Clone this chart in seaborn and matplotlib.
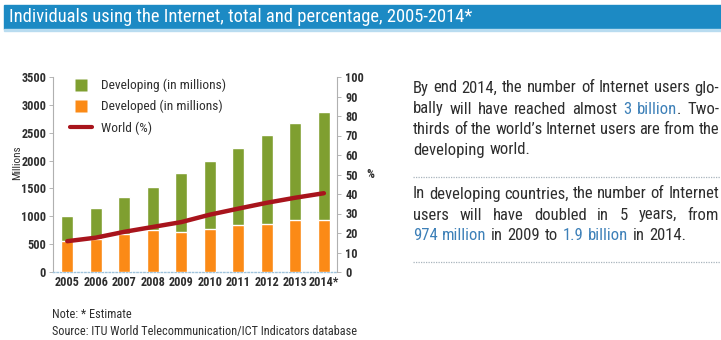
import numpy as np
import pandas as pd
import matplotlib
matplotlib.use("Agg")
import matplotlib.pyplot as plt
import seaborn as sns
from matplotlib.patches import Rectangle
from matplotlib.lines import Line2D

# ---- data ----
years = ["2005", "2006", "2007", "2008", "2009", "2010", "2011", "2012", "2013", "2014*"]
developed = [560, 590, 690, 750, 720, 780, 840, 860, 930, 940]
developing = [450, 550, 660, 780, 1050, 1210, 1380, 1600, 1740, 1930]
world_pct = [15.8, 17.6, 20.6, 23.1, 25.6, 29.4, 32.5, 35.5, 38.1, 40.4]
left_ticks = [0, 500, 1000, 1500, 2000, 2500, 3000, 3500]
right_ticks = [0, 10, 20, 30, 40, 50, 60, 70, 80, 90, 100]

title = "Individuals using the Internet, total and percentage, 2005-2014*"
note = "Note: * Estimate"
source = "Source: ITU World Telecommunication/ICT Indicators database"

GREEN = "#7f9f30"
ORANGE = "#fb8a16"
RED = "#a8141c"
DARK = "#2e2e2e"
BLUE_T = "#3d80b8"
NARROW = ["Roboto Condensed", "Liberation Sans Narrow", "Liberation Sans", "DejaVu Sans"]

sns.set_theme(style="white")
plt.rcParams["font.family"] = NARROW

W, H = 721, 340
fig = plt.figure(figsize=(W / 100, H / 100), dpi=100)
renderer = fig.canvas.get_renderer()

def fx(px):
    return px / W

def fy(py):
    return 1 - py / H

def fit_size(s, target_px, base=12.0, **kw):
    t = fig.text(0, 0, s, fontsize=base, **kw)
    w = t.get_window_extent(renderer).width
    t.remove()
    return base * target_px / w

# title banner
fig.patches.append(Rectangle((fx(4), fy(29)), 1, (29 - 5) / H, transform=fig.transFigure,
                             color="#1c8ac4", zorder=0))
fig.patches.append(Rectangle((fx(4), fy(31)), 1, 2 / H, transform=fig.transFigure,
                             color="#b9dcf0", zorder=0))
tsize = fit_size(title, 462)
fig.text(fx(9), fy(17), title, color="white", fontsize=tsize, va="center", ha="left")

# ---- chart ----
ax = fig.add_axes([fx(53), fy(272), fx(337 - 53), (272 - 77) / H])
df = pd.DataFrame({"year": years, "developed": developed, "developing": developing,
                   "pct": world_pct})
df["total"] = df["developed"] + df["developing"]

sns.barplot(data=df, x="year", y="total", color=GREEN, width=0.42, ax=ax,
            saturation=1, zorder=2)
sns.barplot(data=df, x="year", y="developed", color=ORANGE, width=0.42, ax=ax,
            saturation=1, zorder=3)
ax.set_ylim(0, 3500)
ax.set_xlim(-0.5, 9.46)
ax.set_yticks(left_ticks)
ax.set_yticklabels([str(t) for t in left_ticks])
ax.set_xlabel("")
ax.set_ylabel("Millions", fontsize=8, color=DARK)
ax.yaxis.set_label_coords((22 - 53) / (337 - 53), (272 - 163) / (272 - 77))
tick_fs = 8.8
ax.tick_params(axis="y", length=3, width=0.6, color="#aaaaaa", labelsize=tick_fs,
               labelcolor=DARK, pad=2, left=True)
ax.tick_params(axis="x", length=0, labelsize=tick_fs, labelcolor=DARK, pad=3)
for lab in ax.get_xticklabels() + ax.get_yticklabels():
    lab.set_fontweight("bold")
for s in ["top", "right"]:
    ax.spines[s].set_visible(False)
ax.spines["left"].set_color("#b0b0b0")
ax.spines["left"].set_linewidth(0.8)
ax.spines["bottom"].set_color("#9fc3dc")
ax.spines["bottom"].set_linestyle((0, (1, 1.5)))
ax.spines["bottom"].set_linewidth(1.0)
ax.grid(False)

ax2 = ax.twinx()
xpos = np.arange(len(years))
sns.lineplot(x=xpos, y=world_pct, ax=ax2, color=RED, linewidth=3.2, zorder=5)
ax2.set_ylim(0, 100)
ax2.set_yticks(right_ticks)
ax2.set_yticklabels([str(t) for t in right_ticks])
ax2.tick_params(axis="y", length=3, width=0.6, color="#aaaaaa", labelsize=tick_fs,
                labelcolor=DARK, pad=3, right=True)
for lab in ax2.get_yticklabels():
    lab.set_fontweight("bold")
for s in ["top", "left", "bottom"]:
    ax2.spines[s].set_visible(False)
ax2.spines["right"].set_color("#b0b0b0")
ax2.spines["right"].set_linewidth(0.8)
ax2.set_ylabel("")
ax2.grid(False)
ax2.set_xlim(-0.5, 9.46)
fig.text(fx(370), fy(175), "%", fontsize=tick_fs, color=DARK, va="center", ha="center",
         fontweight="bold")

leg_fs = fit_size("Developing (in millions)", 124, base=9)
handles = [Line2D([0], [0], linestyle="none", marker="s", markersize=9,
                  markerfacecolor=GREEN, markeredgecolor="none"),
           Line2D([0], [0], linestyle="none", marker="s", markersize=9,
                  markerfacecolor=ORANGE, markeredgecolor="none"),
           Line2D([0], [0], color=RED, linewidth=3)]
labels = ["Developing (in millions)", "Developed (in millions)", "World (%)"]
em = leg_fs * 100 / 72
leg = ax.legend(handles, labels, loc="upper left", bbox_to_anchor=(fx(70), fy(79)),
                bbox_transform=fig.transFigure, frameon=False, fontsize=leg_fs,
                handlelength=22 / em, handletextpad=9 / em, labelspacing=(21 - em) / em,
                borderpad=0, borderaxespad=0)
for t in leg.get_texts():
    t.set_color(DARK)

# notes
note_fs = fit_size(source, 308, base=7)
fig.text(fx(52), fy(315), note, fontsize=note_fs, color=DARK, va="center", ha="left")
fig.text(fx(52), fy(332), source, fontsize=note_fs, color=DARK, va="center", ha="left")

# ---- paragraphs with justification ----
PFS = fit_size("By end 2014, the number of Internet users glo-", 300, base=10)

def draw_line(tokens, x0, x1, yc, justify):
    # tokens: list of words, each a list of (piece, color)
    objs = []
    widths = []
    for tok in tokens:
        pieces = []
        tw = 0
        for piece, col in tok:
            t = fig.text(0, fy(yc), piece, fontsize=PFS, color=col, va="center",
                         ha="left")
            w = t.get_window_extent(renderer).width
            pieces.append((t, w))
            tw += w
        objs.append(pieces)
        widths.append(tw)
    total = sum(widths)
    sp = PFS * 100 / 72 * 0.27
    if justify and len(tokens) > 1:
        gap = (x1 - x0 - total) / (len(tokens) - 1)
    else:
        gap = sp
    x = x0
    for pieces, tw in zip(objs, widths):
        xx = x
        for t, w in pieces:
            t.set_x(fx(xx))
            xx += w
        x += tw + gap

def toks(s, col=DARK):
    return [[(w, col)] for w in s.split()]

X0, X1 = 413, 719
draw_line(toks("By end 2014, the number of Internet users glo-"), X0, X1, 88, True)
draw_line(toks("bally will have reached almost") + [[("3", BLUE_T)], [("billion", BLUE_T), (".", DARK)]]
          + toks("Two-"), X0, X1, 109, True)
draw_line(toks("thirds of the world\u2019s Internet users are from the"), X0, X1, 130, True)
draw_line(toks("developing world."), X0, X1, 150, False)
draw_line(toks("In developing countries, the number of Internet"), X0, X1, 194, True)
draw_line(toks("users will have doubled in 5 years, from"), X0, X1, 215, True)
draw_line([[("974", BLUE_T)], [("million", BLUE_T)]] + toks("in 2009 to")
          + [[("1.9", BLUE_T)], [("billion", BLUE_T)]] + toks("in 2014."), X0, X1, 236, False)

for ysep in (177, 262):
    fig.add_artist(Line2D([fx(X0), fx(721)], [fy(ysep), fy(ysep)], transform=fig.transFigure,
                          color="#a9b4bd", linewidth=0.9, linestyle=(0, (1, 1))))

fig.savefig("out.png", dpi=100)
